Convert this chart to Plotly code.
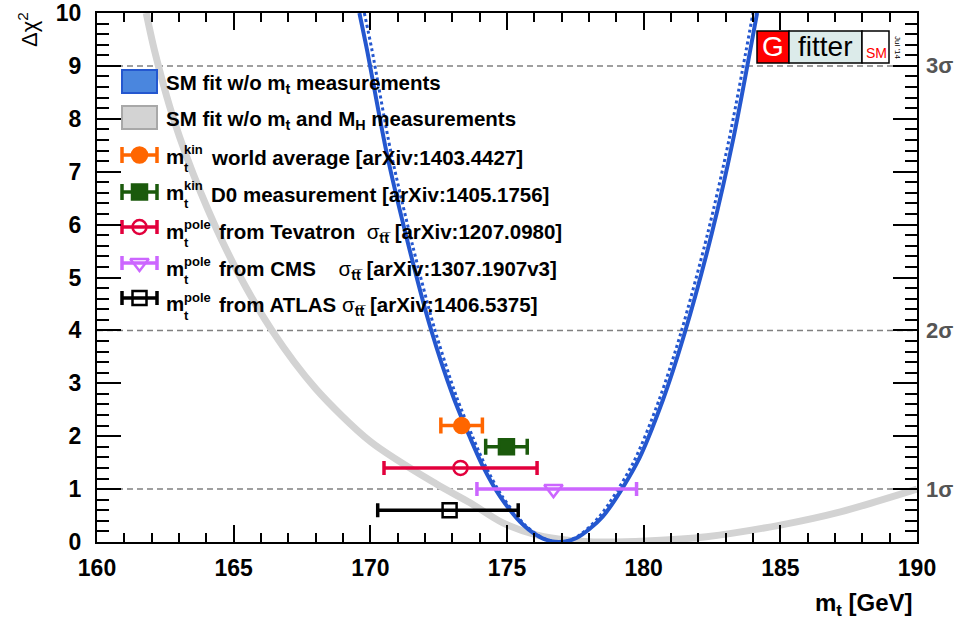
import plotly.graph_objects as go

# ---------------- data ----------------
mt_gray = [161.8, 162.1, 162.8, 163.8, 165.0, 166.4, 168.0, 170.0, 172.4, 173.65,
           174.85, 176.1, 177.3, 178.5, 180.1, 182.3, 185.0, 187.2, 190.0]
chi2_gray = [10.0, 9.3, 8.0, 6.6, 5.25, 4.0, 2.9, 1.9, 1.1, 0.74,
             0.36, 0.13, 0.03, 0.0, 0.02, 0.1, 0.32, 0.57, 1.0]

mt_blue = [169.6, 169.88, 170.6, 171.4, 172.2, 173.03, 173.65, 174.1, 174.75, 175.6,
           176.3, 176.9, 177.56, 178.5, 179.76, 180.7, 181.5, 182.5, 183.27, 184.15]
chi2_blue = [10.0, 9.3, 7.35, 5.6, 4.05, 2.75, 1.97, 1.45, 0.86, 0.32,
             0.07, 0.0, 0.08, 0.48, 1.5, 2.68, 3.95, 5.85, 7.6, 10.0]

mt_blue_dot = [169.78, 170.06, 170.76, 171.55, 172.34, 173.15, 173.76, 174.2, 174.83, 175.66,
               176.33, 176.9, 177.5, 178.38, 179.62, 180.56, 181.36, 182.35, 183.12, 184.0]
chi2_blue_dot = [10.0, 9.3, 7.35, 5.6, 4.05, 2.75, 1.97, 1.45, 0.86, 0.32,
                 0.07, 0.0, 0.08, 0.48, 1.5, 2.68, 3.95, 5.85, 7.6, 10.0]

meas_mt = [173.34, 174.98, 173.3, 176.7, 172.9]
meas_chi2 = [2.2, 1.8, 1.4, 1.0, 0.6]
meas_err_plus = [0.76, 0.76, 2.8, 3.04, 2.51]
meas_err_minus = [0.76, 0.76, 2.8, 2.8, 2.63]

sigma_levels = [1, 4, 9]
sigma_labels = ["1σ", "2σ", "3σ"]

x_ticks = [160, 165, 170, 175, 180, 185, 190]
y_ticks = [0, 1, 2, 3, 4, 5, 6, 7, 8, 9, 10]

band_labels = ["SM fit w/o m<sub>t</sub> measurements",
               "SM fit w/o m<sub>t</sub> and M<sub>H</sub> measurements"]
meas_sup = ["kin", "kin", "pole", "pole", "pole"]
meas_text = ["<b>world average [arXiv:1403.4427]</b>",
             "<b>D0 measurement [arXiv:1405.1756]</b>",
             "<b>from Tevatron</b>\u00a0\u00a0σ<sub><b>tt\u0305</b></sub> <b>[arXiv:1207.0980]</b>",
             "<b>from CMS</b>\u00a0\u00a0\u00a0\u00a0σ<sub><b>tt\u0305</b></sub> <b>[arXiv:1307.1907v3]</b>",
             "<b>from ATLAS</b>\u00a0σ<sub><b>tt\u0305</b></sub> <b>[arXiv:1406.5375]</b>"]

# ---------------- styles ----------------
FONT = "Liberation Sans, Arial, Helvetica, sans-serif"
BLUE = "#2457cf"
BLUE_FILL = "#4a86de"
GRAY = "#d3d3d3"
meas_colors = ["#ff6600", "#1b5a0c", "#e2003c", "#cc66ff", "#000000"]
meas_symbols = ["circle", "square", "circle-open", "triangle-down-open", "square-open"]
meas_size = [15, 15, 14, 16, 14]
meas_caps = [8, 8, 7, 7, 7]

W, H = 956, 628
L, R, T, B = 97, 917, 13, 542


def fx(px):
    return (px - L) / (R - L)


def fy(py):
    return (B - py) / (B - T)


fig = go.Figure()

fig.add_trace(go.Scatter(x=mt_gray, y=chi2_gray, mode="lines",
                         line=dict(color=GRAY, width=7, shape="spline", smoothing=0.8),
                         hoverinfo="skip", showlegend=False))
fig.add_trace(go.Scatter(x=mt_blue, y=chi2_blue, mode="lines",
                         line=dict(color=BLUE, width=4, shape="spline", smoothing=0.8),
                         hoverinfo="skip", showlegend=False))
fig.add_trace(go.Scatter(x=mt_blue_dot, y=chi2_blue_dot, mode="lines",
                         line=dict(color=BLUE, width=3, dash="dot", shape="spline", smoothing=0.8),
                         hoverinfo="skip", showlegend=False))

for i in range(len(meas_mt)):
    fig.add_trace(go.Scatter(
        x=[meas_mt[i]], y=[meas_chi2[i]], mode="markers",
        marker=dict(symbol=meas_symbols[i], size=meas_size[i], color=meas_colors[i],
                    line=dict(color=meas_colors[i], width=2.5)),
        error_x=dict(type="data", symmetric=False, array=[meas_err_plus[i]],
                     arrayminus=[meas_err_minus[i]], color=meas_colors[i],
                     thickness=3.5, width=meas_caps[i]),
        showlegend=False, hoverinfo="skip"))

# ---- legend symbols on a hidden overlay axis (0..1 coordinates) ----
row_marker_y = [155, 192, 227, 263, 298]
row_text_y = [157, 193, 232, 269, 305]
sym_x0, sym_x1 = 122, 157
for i in range(len(meas_mt)):
    fig.add_trace(go.Scatter(
        x=[fx((sym_x0 + sym_x1) / 2)], y=[fy(row_marker_y[i])], mode="markers",
        xaxis="x2", yaxis="y2",
        marker=dict(symbol=meas_symbols[i], size=meas_size[i], color=meas_colors[i],
                    line=dict(color=meas_colors[i], width=2.5)),
        error_x=dict(type="data", array=[(sym_x1 - sym_x0) / 2 / (R - L)],
                     color=meas_colors[i], thickness=3.5, width=meas_caps[i]),
        showlegend=False, hoverinfo="skip"))

shapes = []
for lv in sigma_levels:
    shapes.append(dict(type="line", xref="paper", yref="y", x0=0, x1=1, y0=lv, y1=lv,
                       line=dict(color="#808080", width=1.5, dash="6px,4px"), layer="below"))
shapes.append(dict(type="rect", xref="paper", yref="paper", x0=fx(122), x1=fx(157),
                   y0=fy(93), y1=fy(70), fillcolor=BLUE_FILL, line=dict(color=BLUE, width=2)))
shapes.append(dict(type="rect", xref="paper", yref="paper", x0=fx(122), x1=fx(157),
                   y0=fy(129), y1=fy(106), fillcolor=GRAY, line=dict(color="#a8a8a8", width=2)))
shapes.append(dict(type="rect", xref="paper", yref="paper", x0=fx(757), x1=fx(789),
                   y0=fy(63), y1=fy(31), fillcolor="#ff0000", line=dict(color="black", width=1.5)))
shapes.append(dict(type="rect", xref="paper", yref="paper", x0=fx(789), x1=fx(862),
                   y0=fy(63), y1=fy(31), fillcolor="#dcebea", line=dict(color="black", width=1.5)))
shapes.append(dict(type="rect", xref="paper", yref="paper", x0=fx(862), x1=fx(889),
                   y0=fy(63), y1=fy(31), fillcolor="white", line=dict(color="black", width=1.5)))

ann = []


def text(px, py, s, size, xanchor="left", color="black", weight="normal", angle=0, yanchor="middle"):
    ann.append(dict(x=fx(px), y=fy(py), xref="paper", yref="paper", text=s, showarrow=False,
                    xanchor=xanchor, yanchor=yanchor, textangle=angle,
                    font=dict(family=FONT, size=size, color=color, weight=weight)))


band_y = [82, 118]
for i, s in enumerate(band_labels):
    text(164, band_y[i] + 2, s, 20.5, weight="bold")
sup_w = {"kin": 27, "pole": 35}
for i in range(len(meas_text)):
    yc = row_text_y[i]
    text(164, yc - 1, "m", 20.5, weight="bold")
    text(182, yc + 10, "t", 13, weight="bold")
    text(182, yc - 8, meas_sup[i], 13, weight="bold")
    text(182 + sup_w[meas_sup[i]], yc + 1, meas_text[i], 20.5)

for lv, lab in zip(sigma_levels, sigma_labels):
    text(939, B - lv * (B - T) / 10, lab, 22, xanchor="center", color="#555555", weight="bold")

text(28, 30, "Δχ<sup>2</sup>", 22, xanchor="center", angle=-90)
text(915, 604, "m<sub>t</sub> [GeV]", 24, xanchor="right", weight="bold")

text(773, 47, "G", 28, xanchor="center", color="white")
text(825, 46, "fitter", 28, xanchor="center")
text(876, 53, "SM", 14, xanchor="center", color="#ff0000")
text(897, 47, "Jul '14", 8, xanchor="center", angle=90)

axis_common = dict(showline=True, linecolor="black", linewidth=2, mirror="allticks",
                   ticks="inside", tickcolor="black", tickwidth=2, showgrid=False, zeroline=False,
                   automargin=False,
                   tickfont=dict(family=FONT, size=23, color="black", weight="bold"))

fig.update_layout(
    width=W, height=H, autosize=False,
    margin=dict(l=L, r=W - R, t=T, b=H - B, pad=0),
    paper_bgcolor="white", plot_bgcolor="rgba(0,0,0,0)",
    showlegend=False,
    xaxis=dict(range=[160, 190], tickvals=x_ticks, ticklen=17, ticklabelstandoff=4,
               minor=dict(dtick=1, ticklen=9, ticks="inside", tickcolor="black", tickwidth=2, showgrid=False),
               **axis_common),
    yaxis=dict(range=[0, 10], tickvals=y_ticks, ticklen=24, ticklabelstandoff=9,
               minor=dict(dtick=0.2, ticklen=12, ticks="inside", tickcolor="black", tickwidth=2, showgrid=False),
               **axis_common),
    xaxis2=dict(range=[0, 1], overlaying="x", anchor="y2", visible=False, fixedrange=True),
    yaxis2=dict(range=[0, 1], overlaying="y", anchor="x2", visible=False, fixedrange=True),
    shapes=shapes, annotations=ann,
)

fig.write_html("out.html", config={"displayModeBar": False},
               post_script="document.body.style.margin='0';document.body.style.overflow='hidden';")
